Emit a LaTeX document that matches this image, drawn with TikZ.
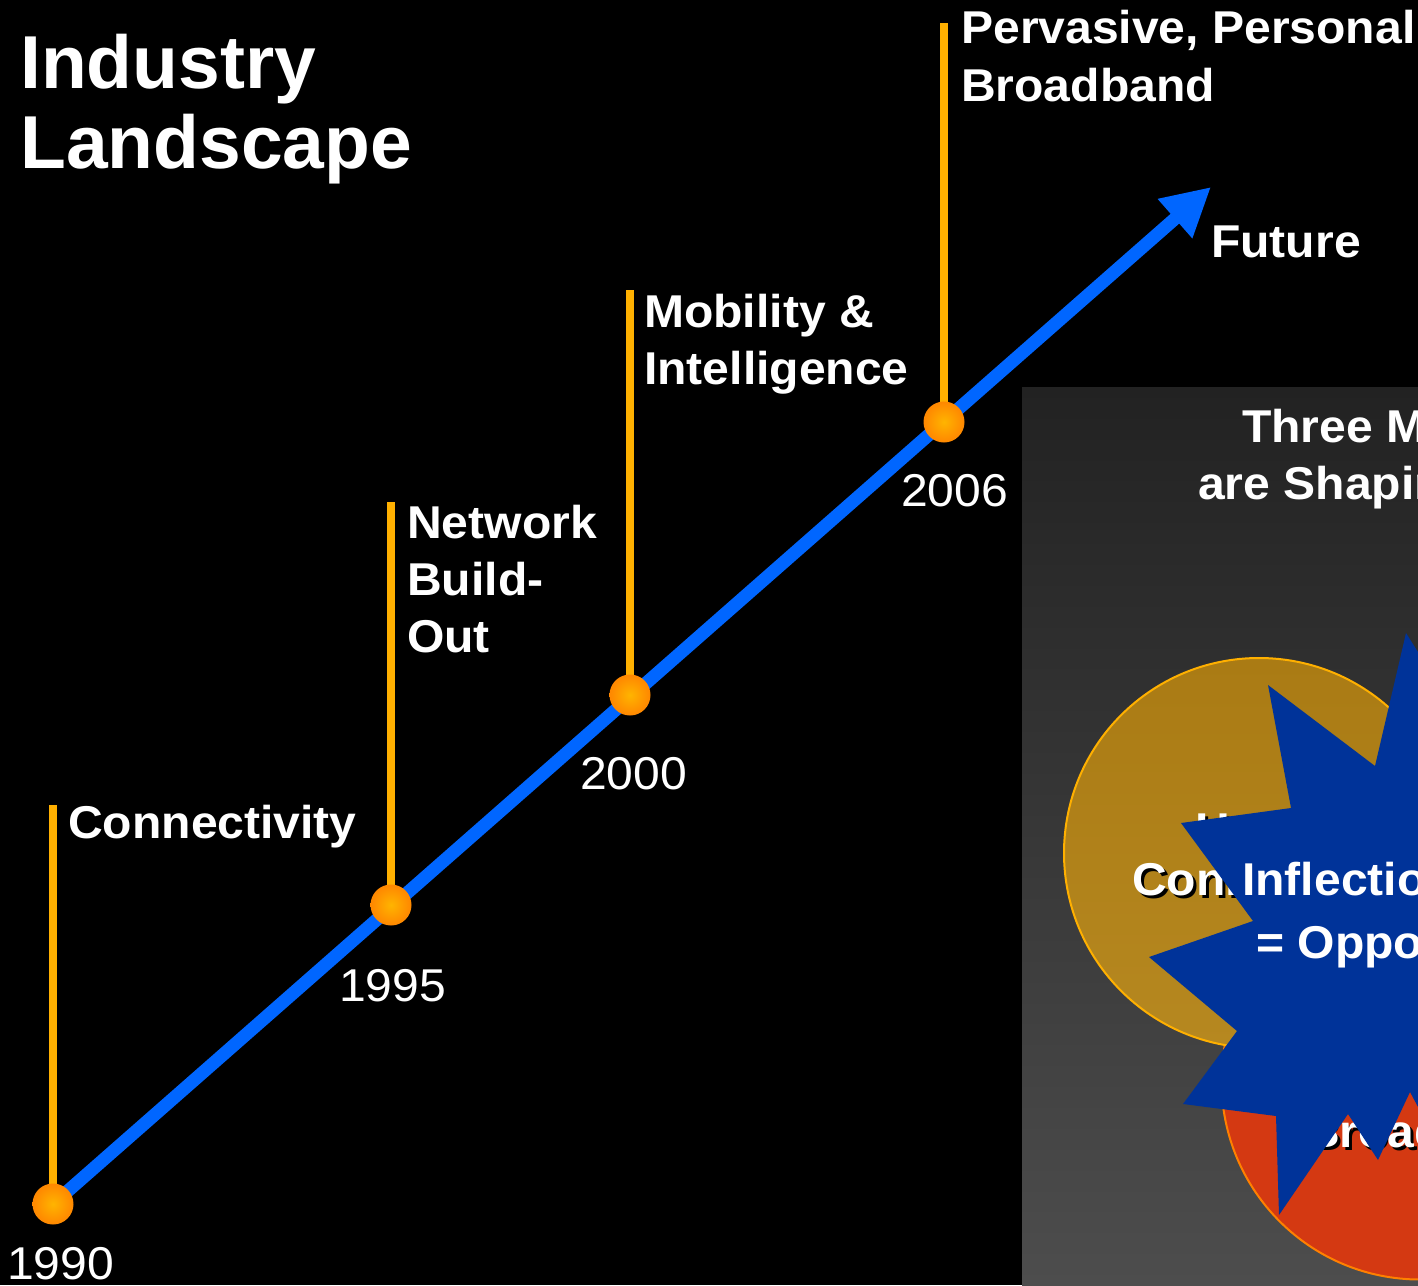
\documentclass[tikz,border=0pt]{standalone}
\usepackage{fontspec}
\setmainfont{Liberation Sans}
\newfontfamily\lblfont{Liberation Sans}[FakeStretch=1.045]
\usetikzlibrary{arrows.meta}
\definecolor{panelTop}{RGB}{34,34,34}
\definecolor{panelBot}{RGB}{77,77,77}
\definecolor{goldTop}{RGB}{170,123,20}
\definecolor{goldBot}{RGB}{182,136,32}
\definecolor{goldEdge}{RGB}{255,176,0}
\definecolor{redFill}{RGB}{212,57,18}
\definecolor{redEdge}{RGB}{255,128,0}
\definecolor{starBlue}{RGB}{0,51,153}
\definecolor{lineBlue}{RGB}{0,102,255}
\definecolor{stickC}{RGB}{255,176,0}
\definecolor{dotIn}{RGB}{255,180,0}
\definecolor{dotMid}{RGB}{255,140,0}
\definecolor{dotOut}{RGB}{255,100,0}
\pgfdeclareradialshading{dotshade}{\pgfpoint{0bp}{0bp}}{color(0bp)=(dotIn); color(22bp)=(dotMid); color(50bp)=(dotOut)}
\begin{document}
\begin{tikzpicture}[x=1pt,y=-1pt,
  lbl/.style={anchor=base west, inner sep=0pt, text=white, font=\lblfont\fontsize{46}{56}\selectfont\bfseries},
  yr/.style={anchor=base west, inner sep=0pt, text=white, font=\lblfont\fontsize{46}{56}\selectfont},
  ttl/.style={anchor=base west, inner sep=0pt, text=white, font=\fontsize{75}{80}\selectfont\bfseries},
  shd/.style={anchor=base west, inner sep=0pt, text=black, font=\lblfont\fontsize{46}{56}\selectfont\bfseries},
  stick/.style={draw=stickC, line width=8pt},
  timeline/.style={draw=lineBlue, line width=13pt, -{Triangle[length=48pt,width=49pt]}},
  dot/.style={circle, minimum size=41pt, inner sep=0pt, shade, shading=dotshade}
]
\useasboundingbox (0,0) rectangle (1418,1285);
\clip (0,0) rectangle (1418,1285);
\fill[black] (0,0) rectangle (1418,1285);

% right panel
\shade[top color=panelTop, bottom color=panelBot] (1022,387) rectangle (1440,1285);
\fill[redFill, draw=redEdge, line width=2pt] (1420,1081) circle[radius=198.5];
\shade[top color=goldTop, bottom color=goldBot, draw=goldEdge, line width=2pt] (1259,853) circle[radius=195];

\node[shd] (homeS) at (1198,848) {Home};
\node[lbl] (home) at (1195,845) {Home};
\node[shd] (connS) at (1135,898) {Connection};
\node[lbl] (conn) at (1132,895) {Connection};
\node[shd] (bbS) at (1308,1150) {Broadband};
\node[lbl] (bb) at (1305,1147) {Broadband};

\fill[starBlue] (1406,633) -- (1440,687) -- (1500,690) -- (1500,1150) -- (1440,1148)
  -- (1410,1092) -- (1378,1160) -- (1348,1114) -- (1279,1215) -- (1276,1116)
  -- (1183,1104) -- (1237,1031) -- (1149,957) -- (1253,921) -- (1181,823)
  -- (1291,808) -- (1268,685) -- (1375,766) -- cycle;

\node[lbl] (infl) at (1242,895) {Inflection Point};
\node[lbl] (opp) at (1256,958) {= Opportunity};
\node[lbl] (three) at (1242,442) {Three Market Transitions};
\node[lbl] (shaping) at (1198,499) {are Shaping the Industry};

% title
\node[ttl] (title1) at (20,88) {Industry};
\node[ttl] (title2) at (20,168) {Landscape};

% timeline
\coordinate (t1990) at (53,805);
\coordinate (t1995) at (391,502);
\coordinate (t2000) at (630,290);
\coordinate (t2006) at (944,23);
\coordinate (tip) at (1211,187);
\coordinate (p1990) at (53,1204);
\coordinate (p1995) at (391,905);
\coordinate (p2000) at (630,695);
\coordinate (p2006) at (944,422);

\draw[stick] (p1990) -- (t1990);
\draw[stick] (p1995) -- (t1995);
\draw[stick] (p2000) -- (t2000);
\draw[stick] (p2006) -- (t2006);
\draw[timeline] (p1990) -- (tip);

\node[dot] (d1990) at (p1990) {};
\node[dot] (d1995) at (p1995) {};
\node[dot] (d2000) at (p2000) {};
\node[dot] (d2006) at (p2006) {};

\node[yr] (y1990) at (7,1279) {1990};
\node[yr] (y1995) at (339,1001) {1995};
\node[yr] (y2000) at (580,789) {2000};
\node[yr] (y2006) at (901,506) {2006};

\node[lbl] (lconn) at (68,838) {Connectivity};
\node[lbl] (lnet1) at (407,538) {Network};
\node[lbl] (lnet2) at (407,595) {Build-};
\node[lbl] (lnet3) at (407,652) {Out};
\node[lbl] (lmob1) at (644,327) {Mobility \&};
\node[lbl] (lmob2) at (644,384) {Intelligence};
\node[lbl] (lper1) at (961,43) {Pervasive, Personal};
\node[lbl] (lper2) at (961,101) {Broadband};
\node[lbl] (lfut) at (1211,257) {Future};
\end{tikzpicture}
\end{document}
